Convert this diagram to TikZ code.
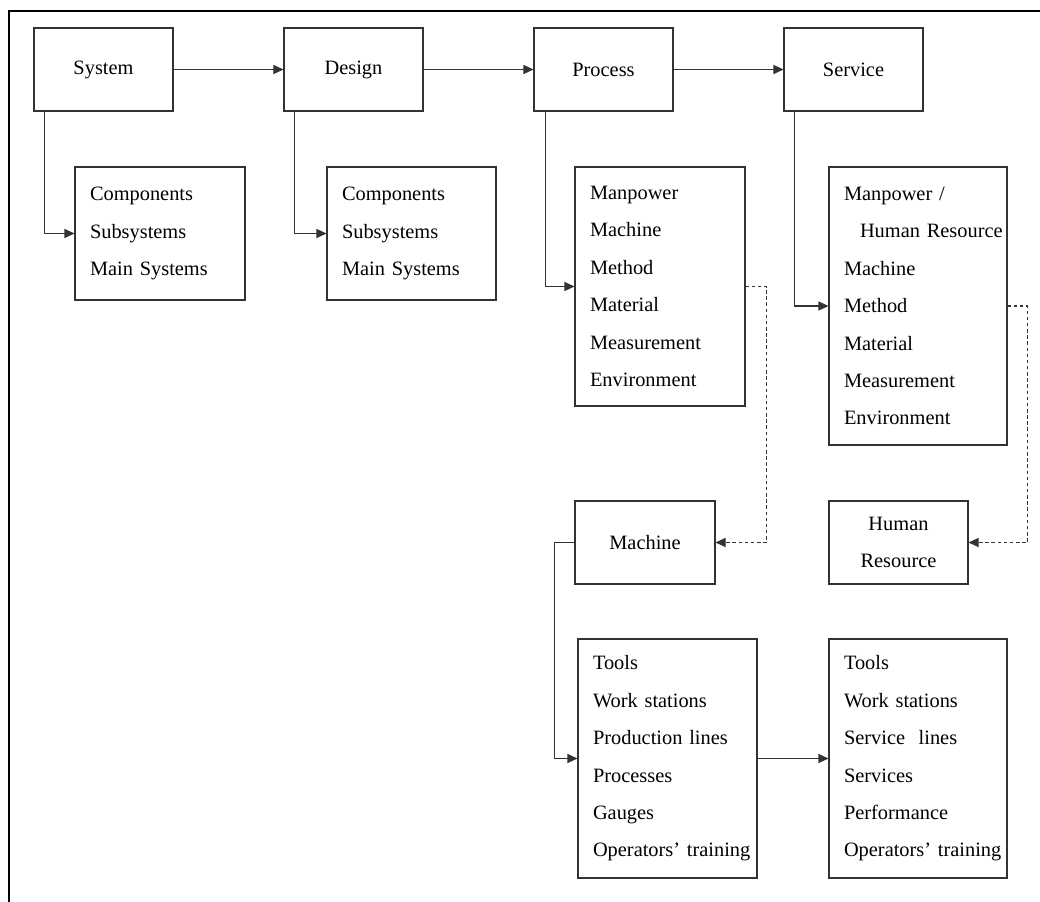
\documentclass[tikz,border=0pt]{standalone}
\usepackage{fontspec}
\setmainfont{Liberation Serif}
\usetikzlibrary{arrows.meta,positioning}
\definecolor{ink}{HTML}{333333}

\begin{document}
\begin{tikzpicture}[font=\fontsize{11.6pt}{21.3pt}\selectfont,
    headbox/.style={draw=ink,line width=0.6pt,minimum width=2.78cm,minimum height=1.66cm,
                    inner sep=0pt,align=center},
    listbox/.style={draw=ink,line width=0.6pt,inner xsep=0.3cm,inner ysep=0pt,align=left},
    arr/.style={-{Triangle[length=2mm,width=1.8mm]},ink,line width=0.6pt},
    darr/.style={arr,dash pattern=on 2pt off 1.5pt}]
  \useasboundingbox (0,0) rectangle (20.8,-18.04);
  \draw[line width=1.1pt] (0.18,-18.04) -- (0.18,-0.22) -- (20.8,-0.22);
  \node[headbox] (sys) at (2.07,-1.39)  {System};
  \node[headbox] (des) at (7.07,-1.39)  {Design};
  \node[headbox] (pro) at (12.07,-1.39) {Process};
  \node[headbox] (ser) at (17.07,-1.39) {Service};
  \node[listbox,text width=2.8cm,minimum height=2.66cm] (comp1) at (3.2,-4.67)
    {Components\\Subsystems\\Main Systems};
  \node[listbox,text width=2.78cm,minimum height=2.66cm] (comp2) at (8.23,-4.67)
    {Components\\Subsystems\\Main Systems};
  \node[listbox,text width=2.8cm,minimum height=4.78cm] (pfac) at (13.2,-5.73)
    {Manpower\\Machine\\Method\\Material\\Measurement\\Environment};
  \node[listbox,text width=2.96cm,minimum height=5.56cm] (sfac) at (18.36,-6.12)
    {Manpower /\\\hspace*{0.32cm}\mbox{Human Resource}\\Machine\\Method\\Material\\Measurement\\Environment};
  \node[headbox,minimum width=2.8cm] (mach) at (12.9,-10.85) {Machine};
  \node[headbox] (hr) at (17.97,-10.85) {Human\\Resource};
  \node[listbox,text width=2.98cm,minimum height=4.78cm] (tools1) at (13.35,-15.17)
    {Tools\\Work stations\\Production lines\\Processes\\Gauges\\\mbox{Operators' training}};
  \node[listbox,text width=2.96cm,minimum height=4.78cm] (tools2) at (18.36,-15.17)
    {Tools\\Work stations\\Service\ \ lines\\Services\\Performance\\\mbox{Operators' training}};
  \draw[arr] (sys) -- (des); \draw[arr] (des) -- (pro); \draw[arr] (pro) -- (ser);
  \draw[arr] ([xshift=0.22cm]sys.south west) |- (comp1.west);
  \draw[arr] ([xshift=0.22cm]des.south west) |- (comp2.west);
  \draw[arr] ([xshift=0.24cm]pro.south west) |- (pfac.west);
  \draw[arr] ([xshift=0.22cm]ser.south west) |- (sfac.west);
  \draw[darr] (pfac.east) -- ++(0.42,0) |- (mach.east);
  \draw[darr] (sfac.east) -- ++(0.4,0) |- (hr.east);
  \draw[arr] (mach.west) -- ++(-0.4,0) |- (tools1.west);
  \draw[arr] (tools1) -- (tools2);
\end{tikzpicture}
\end{document}
